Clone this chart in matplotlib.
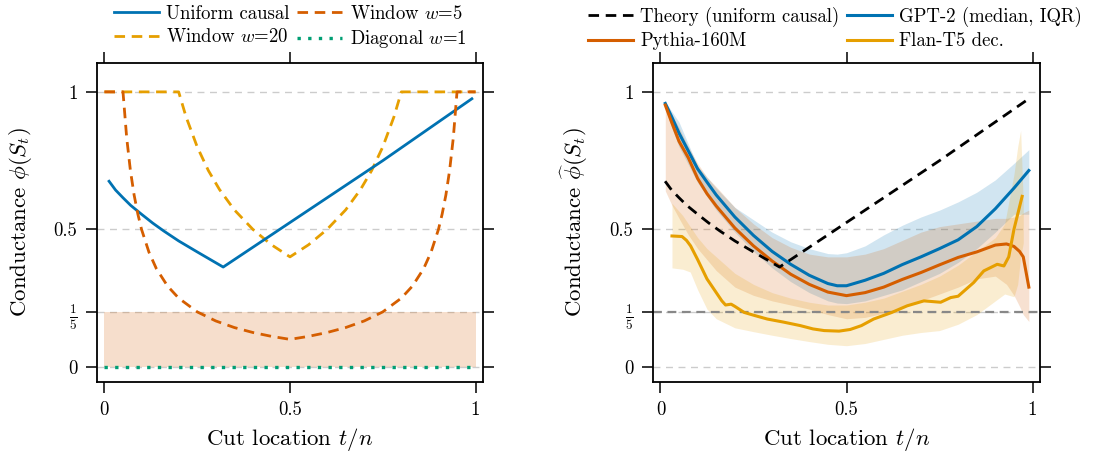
#!/usr/bin/env python

import numpy as np
import matplotlib
matplotlib.use('Agg')
import matplotlib.pyplot as plt

plt.rcParams['font.family'] = 'cmr10'
plt.rcParams['mathtext.fontset'] = 'cm'
plt.rcParams['axes.formatter.use_mathtext'] = True

BLUE = '#0072B2'
RED = '#D55E00'
YEL = '#E69F00'
GREEN = '#009E73'

# ---- left panel: theoretical curves ----
uni_t = [0.0125, 0.03, 0.05, 0.071, 0.1, 0.13, 0.16, 0.2, 0.25, 0.32, 0.5, 0.75, 0.99]
uni_phi = [0.675, 0.643, 0.615, 0.587, 0.555, 0.523, 0.494, 0.458, 0.418, 0.363, 0.525, 0.75, 0.975]

w5_t = [0, 0.05, 0.06, 0.07, 0.08, 0.09, 0.1, 0.12, 0.14, 0.17, 0.2, 0.25, 0.3, 0.35, 0.4, 0.45, 0.5,
        0.55, 0.6, 0.65, 0.7, 0.75, 0.8, 0.83, 0.86, 0.88, 0.9, 0.91, 0.92, 0.93, 0.94, 0.95, 1.0]
w5_phi = [1, 1, 0.833, 0.714, 0.625, 0.556, 0.5, 0.417, 0.357, 0.294, 0.25, 0.2, 0.167, 0.143, 0.125, 0.111, 0.1,
          0.111, 0.125, 0.143, 0.167, 0.2, 0.25, 0.294, 0.357, 0.417, 0.5, 0.556, 0.625, 0.714, 0.833, 1, 1]

w20_t = [0, 0.2, 0.22, 0.25, 0.28, 0.31, 0.35, 0.4, 0.45, 0.5, 0.55, 0.6, 0.65, 0.69, 0.72, 0.75, 0.78, 0.8, 1.0]
w20_phi = [1, 1, 0.909, 0.8, 0.714, 0.645, 0.571, 0.5, 0.444, 0.4, 0.444, 0.5, 0.571, 0.645, 0.714, 0.8, 0.909, 1, 1]

diag_t = [0, 1]
diag_phi = [0, 0]

shade_t = [0, 1]
shade_lo = [0, 0]
shade_hi = [0.2, 0.2]

# ---- right panel: measured curves ----
gpt_t = [0.013, 0.03, 0.05, 0.075, 0.1, 0.125, 0.15, 0.2, 0.25, 0.3, 0.35, 0.4, 0.45, 0.475, 0.5,
         0.55, 0.6, 0.65, 0.7, 0.75, 0.8, 0.85, 0.9, 0.95, 0.99]
gpt_med = [0.958, 0.91, 0.85, 0.785, 0.72, 0.672, 0.625, 0.545, 0.478, 0.42, 0.373, 0.333, 0.303, 0.295, 0.295,
           0.315, 0.34, 0.372, 0.40, 0.43, 0.462, 0.51, 0.575, 0.65, 0.714]
gpt_lo = [0.94, 0.87, 0.80, 0.735, 0.67, 0.62, 0.57, 0.49, 0.42, 0.36, 0.31, 0.27, 0.24, 0.232, 0.23,
          0.24, 0.26, 0.28, 0.31, 0.34, 0.38, 0.43, 0.49, 0.555, 0.555]
gpt_hi = [0.965, 0.93, 0.89, 0.81, 0.73, 0.69, 0.65, 0.58, 0.535, 0.49, 0.455, 0.43, 0.412, 0.41, 0.415,
          0.44, 0.48, 0.515, 0.545, 0.57, 0.6, 0.635, 0.68, 0.74, 0.79]

py_t = [0.013, 0.03, 0.05, 0.075, 0.1, 0.125, 0.15, 0.2, 0.25, 0.3, 0.35, 0.4, 0.45, 0.5, 0.55, 0.6,
        0.65, 0.7, 0.75, 0.8, 0.85, 0.9, 0.93, 0.95, 0.965, 0.975, 0.99]
py_med = [0.952, 0.89, 0.82, 0.76, 0.685, 0.63, 0.585, 0.505, 0.44, 0.385, 0.337, 0.30, 0.272, 0.259, 0.27, 0.29,
          0.318, 0.343, 0.371, 0.398, 0.418, 0.443, 0.447, 0.438, 0.42, 0.40, 0.29]
py_lo = [0.64, 0.59, 0.54, 0.48, 0.43, 0.39, 0.35, 0.29, 0.26, 0.24, 0.225, 0.21, 0.19, 0.175, 0.18, 0.195,
         0.215, 0.24, 0.265, 0.29, 0.32, 0.33, 0.3, 0.26, 0.22, 0.19, 0.165]
py_hi = [0.955, 0.92, 0.87, 0.80, 0.74, 0.69, 0.655, 0.58, 0.52, 0.47, 0.435, 0.41, 0.40, 0.40, 0.41, 0.43,
         0.46, 0.49, 0.51, 0.52, 0.53, 0.54, 0.54, 0.545, 0.55, 0.56, 0.57]

flan_t = [0.031, 0.058, 0.07, 0.081, 0.1, 0.125, 0.15, 0.165, 0.175, 0.19, 0.2, 0.225, 0.25, 0.287, 0.33,
          0.376, 0.41, 0.44, 0.48, 0.51, 0.54, 0.573, 0.62, 0.663, 0.708, 0.753, 0.78, 0.8, 0.842, 0.869,
          0.905, 0.923, 0.936, 0.95, 0.972]
flan_med = [0.476, 0.474, 0.46, 0.44, 0.39, 0.32, 0.27, 0.24, 0.225, 0.228, 0.22, 0.198, 0.188, 0.174, 0.163,
            0.15, 0.138, 0.132, 0.13, 0.136, 0.15, 0.174, 0.197, 0.222, 0.24, 0.235, 0.252, 0.257, 0.307, 0.349,
            0.373, 0.367, 0.40, 0.5, 0.62]
flan_band_t = [0.031, 0.06, 0.08, 0.1, 0.125, 0.15, 0.2, 0.25, 0.3, 0.35, 0.4, 0.45, 0.5, 0.55, 0.6, 0.65,
               0.7, 0.75, 0.8, 0.85, 0.9, 0.925, 0.95, 0.96, 0.968, 0.975]
flan_lo = [0.36, 0.355, 0.345, 0.28, 0.21, 0.175, 0.142, 0.128, 0.115, 0.103, 0.092, 0.082, 0.077, 0.085, 0.1, 0.115,
           0.125, 0.132, 0.155, 0.19, 0.24, 0.265, 0.255, 0.3, 0.4, 0.45]
flan_hi = [0.595, 0.55, 0.51, 0.47, 0.43, 0.40, 0.34, 0.30, 0.27, 0.25, 0.235, 0.225, 0.225, 0.235, 0.25, 0.275,
           0.30, 0.33, 0.37, 0.42, 0.47, 0.52, 0.70, 0.80, 0.86, 0.6]

yticks = [0, 0.2, 0.5, 1]
ytick_labels = ['0', r'$\frac{1}{5}$', '0.5', '1']
xticks = [0, 0.5, 1]
xtick_labels = ['0', '0.5', '1']

TICK_FS = 13.5
LABEL_FS = 16.5

fig = plt.figure(figsize=(11.06, 4.54), dpi=100)
ax1 = fig.add_axes([97 / 1106, 72 / 454, 386 / 1106, 319 / 454])
ax2 = fig.add_axes([653 / 1106, 72 / 454, 387 / 1106, 319 / 454])


def style(ax):
    ax.set_xlim(-0.02, 1.02)
    ax.set_ylim(-0.055, 1.105)
    ax.set_xticks(xticks)
    ax.set_xticklabels(xtick_labels, fontsize=TICK_FS)
    ax.set_yticks(yticks)
    ax.set_yticklabels(ytick_labels, fontsize=TICK_FS)
    ax.tick_params(direction='out', length=8, width=1.1, top=True, right=True,
                   labeltop=False, labelright=False, pad=6)
    for s in ax.spines.values():
        s.set_linewidth(1.3)
    for y in yticks:
        ax.axhline(y, color='#cccccc', lw=1.0, ls=(0, (5, 4)), zorder=0)
    ax.set_xlabel(r'Cut location $t/n$', fontsize=LABEL_FS, labelpad=5)


# left panel
style(ax1)
ax1.fill_between(shade_t, shade_lo, shade_hi, color=RED, alpha=0.2, lw=0, zorder=1)
l_uni, = ax1.plot(uni_t, uni_phi, color=BLUE, lw=2.0, label='Uniform causal', zorder=3)
l_w5, = ax1.plot(w5_t, w5_phi, color=RED, lw=2.0, ls=(0, (3.8, 2.4)), label=r'Window $w$=5', zorder=3)
l_w20, = ax1.plot(w20_t, w20_phi, color=YEL, lw=2.0, ls=(0, (3.8, 2.4)), label=r'Window $w$=20', zorder=2)
l_diag, = ax1.plot(diag_t, diag_phi, color=GREEN, lw=2.4, ls=(0, (1, 2.2)), label=r'Diagonal $w$=1', zorder=3)
ax1.set_ylabel(r'Conductance $\phi(S_t)$', fontsize=LABEL_FS, labelpad=14)
ax1.legend(handles=[l_uni, l_w20, l_w5, l_diag], ncol=2, loc='lower center', bbox_to_anchor=(0.5, 1.04),
           frameon=False, fontsize=TICK_FS, handlelength=2.4, handletextpad=0.4, columnspacing=0.4,
           labelspacing=0.3, borderpad=0, borderaxespad=0)

# right panel
style(ax2)
ax2.fill_between(gpt_t, gpt_lo, gpt_hi, color=BLUE, alpha=0.18, lw=0, zorder=1)
ax2.fill_between(py_t, py_lo, py_hi, color=RED, alpha=0.18, lw=0, zorder=1)
ax2.fill_between(flan_band_t, flan_lo, flan_hi, color=YEL, alpha=0.18, lw=0, zorder=1)
ax2.axhline(0.2, color='#888888', lw=1.6, ls=(0, (4, 2.5)), zorder=2)
l_th, = ax2.plot(uni_t, uni_phi, color='black', lw=2.0, ls=(0, (3.8, 2.4)), label='Theory (uniform causal)', zorder=4)
l_gpt, = ax2.plot(gpt_t, gpt_med, color=BLUE, lw=2.2, label='GPT-2 (median, IQR)', zorder=3)
l_py, = ax2.plot(py_t, py_med, color=RED, lw=2.2, label='Pythia-160M', zorder=3)
l_fl, = ax2.plot(flan_t, flan_med, color=YEL, lw=2.2, label='Flan-T5 dec.', zorder=3)
ax2.set_ylabel(r'Conductance $\widehat{\phi}(S_t)$', fontsize=LABEL_FS, labelpad=14)
ax2.legend(handles=[l_th, l_py, l_gpt, l_fl], ncol=2, loc='lower center', bbox_to_anchor=(0.47, 1.04),
           frameon=False, fontsize=TICK_FS, handlelength=2.4, handletextpad=0.4, columnspacing=0.4,
           labelspacing=0.3, borderpad=0, borderaxespad=0)

plt.savefig('out.png', dpi=100)
